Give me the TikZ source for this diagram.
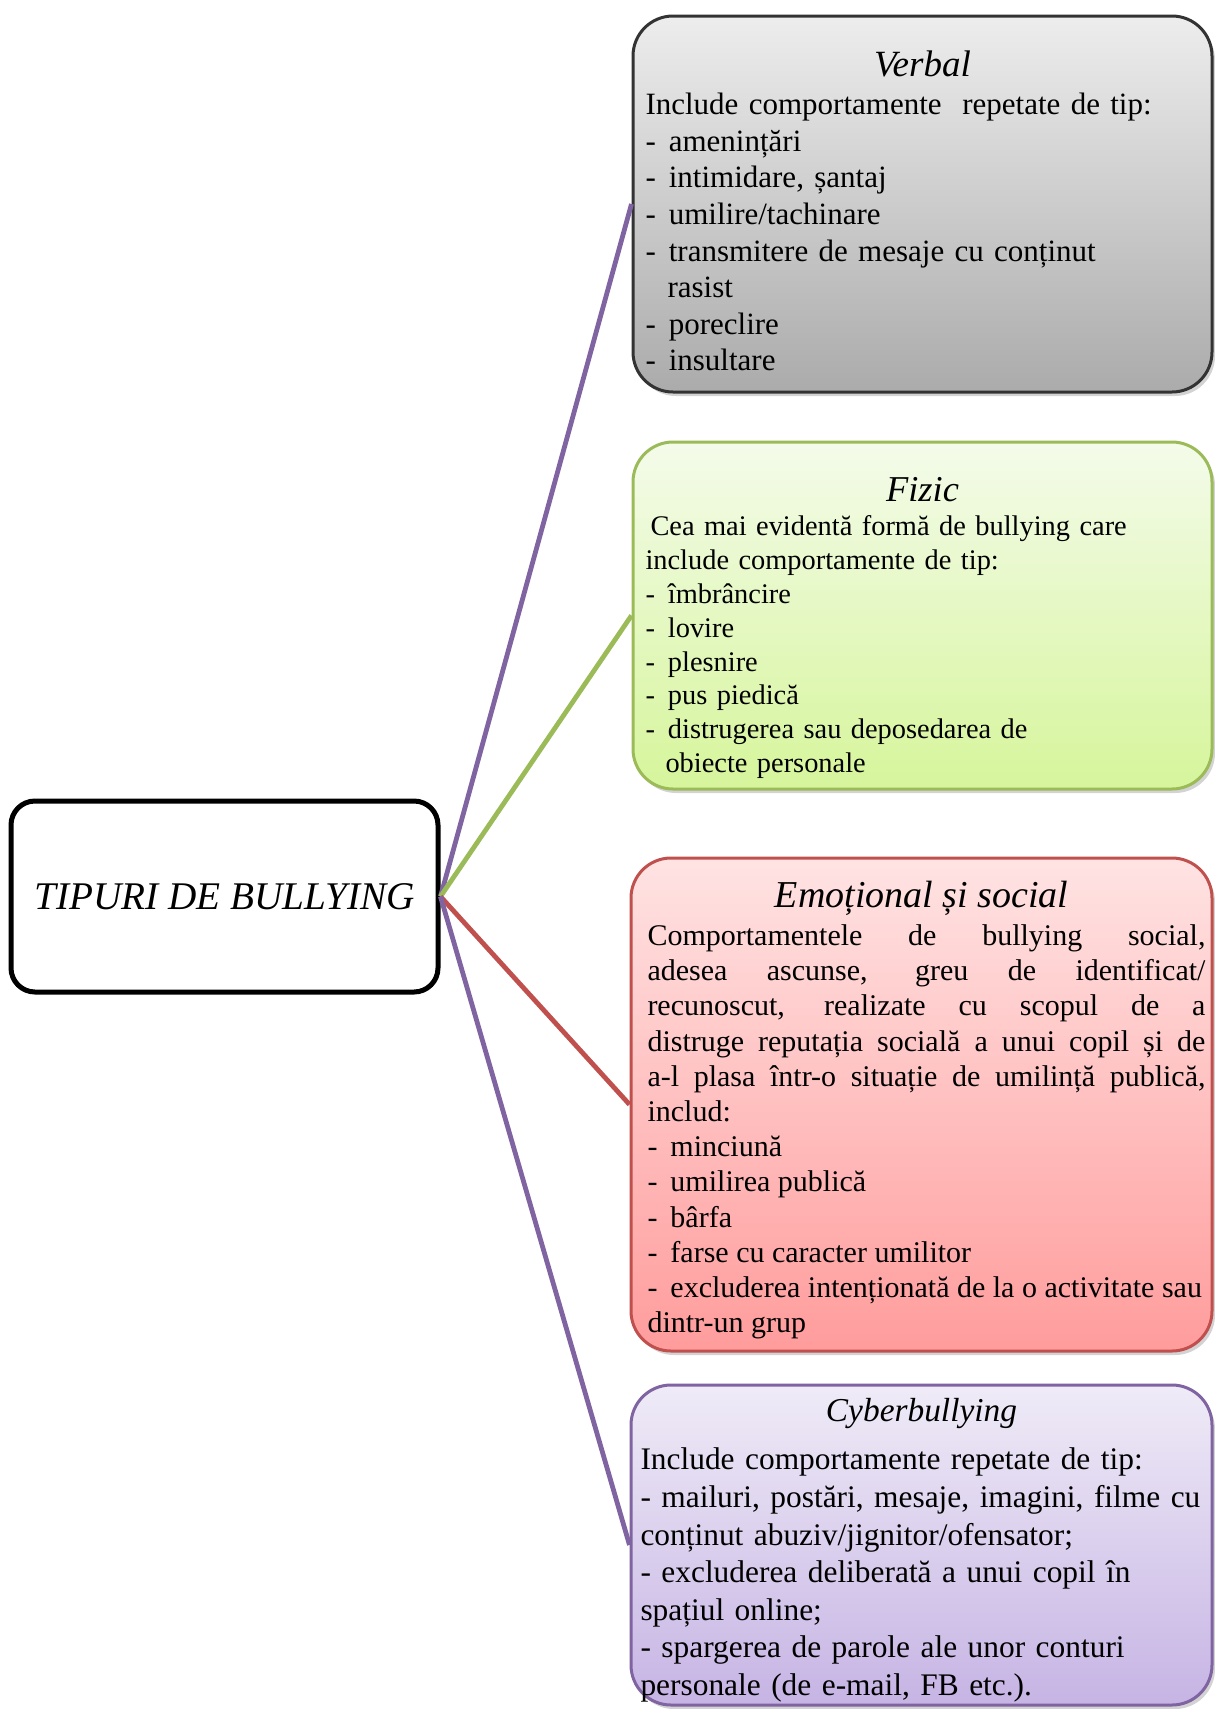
\documentclass[tikz,border=0pt]{standalone}
\usepackage{fontspec}
\setmainfont{Liberation Serif}
\usetikzlibrary{shadows}
\definecolor{linepurple}{HTML}{8064A2}
\definecolor{linegreen}{HTML}{9BBB59}
\definecolor{linered}{HTML}{C0504D}
\definecolor{verbaltop}{HTML}{EDEDED}
\definecolor{verbalbot}{HTML}{ABABAB}
\definecolor{fizictop}{HTML}{F4FBEA}
\definecolor{fizicbot}{HTML}{D6F59B}
\definecolor{emotop}{HTML}{FFE3E3}
\definecolor{emobot}{HTML}{FF9C9C}
\definecolor{cybertop}{HTML}{EFEBF7}
\definecolor{cyberbot}{HTML}{C6B4E4}
\tikzset{
    kind/.style={rounded corners=20pt, line width=1.5pt, inner xsep=6pt, inner ysep=0pt,
        align=left, drop shadow={opacity=0.35, shadow xshift=1.5pt, shadow yshift=-2pt}},
    link/.style={line width=2.4pt},
}
% title of a box: height of its line, size, text
\newcommand\kindtitle[3]{{\centering\fontsize{#2}{#2}\selectfont\itshape\rule{0pt}{#1}#3\par}}
\newcommand\dashgap{-\hspace{6.5pt}}
\begin{document}
\begin{tikzpicture}[x=0.5pt,y=-0.5pt]
        \useasboundingbox (0,0) rectangle (1215,1709);
        \node[draw, line width=2.5pt, rounded corners=12pt, minimum width=213.5pt, minimum height=95.5pt,
            font=\fontsize{19.6}{23}\selectfont\itshape] (tipuri) at (224.5,896.5) {TIPURI DE BULLYING};
        \node[kind, draw=black!80, top color=verbaltop, bottom color=verbalbot, minimum width=289.5pt,
            minimum height=188pt, text width=277pt, font=\fontsize{15.5}{18.3}\selectfont] (verbal) at (922.5,204) {%
            \kindtitle{20pt}{18.5}{Verbal}\vspace{0.6pt}
            Include comportamente~~repetate de tip:\\
            \dashgap amenințări\\
            \dashgap intimidare, șantaj\\
            \dashgap umilire/tachinare\\
            \dashgap transmitere de mesaje cu conținut\\
            \hspace*{11pt}rasist\\
            \dashgap poreclire\\
            \dashgap insultare};
        \node[kind, draw=linegreen, top color=fizictop, bottom color=fizicbot, minimum width=289.5pt,
            minimum height=173.5pt, text width=277pt, font=\fontsize{14.2}{16.9}\selectfont] (fizic) at (922.5,615.5) {%
            \kindtitle{24.4pt}{18.2}{Fizic}\vspace{0.5pt}
            \hspace*{2.5pt}Cea mai evidentă formă de bullying care\\
            include comportamente de tip:\\
            \dashgap îmbrâncire\\
            \dashgap lovire\\
            \dashgap plesnire\\
            \dashgap pus piedică\\
            \dashgap distrugerea sau deposedarea de\\
            \hspace*{10pt}obiecte personale};
        \node[kind, inner xsep=3.25pt, align=justify, draw=linered, top color=emotop, bottom color=emobot,
            minimum width=290.5pt, minimum height=246.5pt, text width=284pt, font=\fontsize{15}{17.6}\selectfont]
            (emotional) at (921.5,1104.5) {%
            \kindtitle{18.8pt}{19}{Emoțional și social}\vspace{1.5pt}
            \leftskip=5pt
            Comportamentele de bullying social,\linebreak
            adesea ascunse, greu de identificat/\linebreak
            recunoscut, realizate cu scopul de a\linebreak
            distruge reputația socială a unui copil și de\linebreak
            a-l plasa într-o situație de umilință publică,\linebreak
            includ:\\
            \dashgap minciună\\
            \dashgap umilirea publică\\
            \dashgap bârfa\\
            \dashgap farse cu caracter umilitor\\
            \dashgap excluderea intenționată de la o activitate sau\\
            dintr-un grup\par};
        \node[kind, inner xsep=4.75pt, draw=linepurple, top color=cybertop, bottom color=cyberbot, minimum width=290.5pt,
            minimum height=160pt, text width=281pt, font=\fontsize{15.7}{18.8}\selectfont] (cyber) at (921.5,1545) {%
            \kindtitle{17pt}{16.7}{Cyberbullying}\vspace{5.3pt}
            Include comportamente repetate de tip:\\
            - mailuri, postări, mesaje, imagini, filme cu\\
            conținut abuziv/jignitor/ofensator;\\
            - excluderea deliberată a unui copil în\\
            spațiul online;\\
            - spargerea de parole ale unor conturi\\
            personale (de e-mail, FB etc.).};
        \foreach \k/\c in {verbal/linepurple, fizic/linegreen, emotional/linered, cyber/linepurple} {
            \draw[link, \c] (tipuri.east) -- (\k.west);
        }
\end{tikzpicture}
\end{document}
